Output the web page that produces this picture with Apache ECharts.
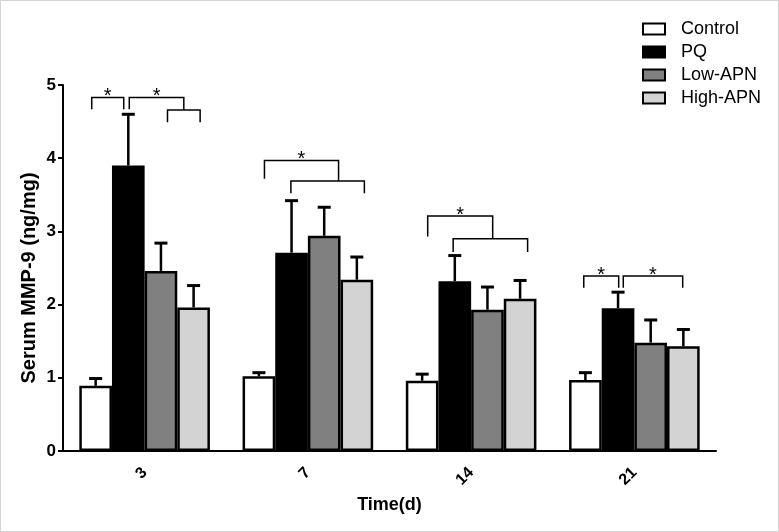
<!DOCTYPE html>
<html>
<head>
<meta charset="utf-8">
<script src="https://cdn.jsdelivr.net/npm/echarts@6/dist/echarts.min.js"></script>
<style>
html,body{margin:0;padding:0;background:#fff;}
#c{width:779px;height:532px;box-sizing:border-box;border:1px solid #d4d4d4;}
</style>
</head>
<body>
<div id="c"></div>
<script>
// ---- data ----
const categories = ['3', '7', '14', '21'];
const seriesNames = ['Control', 'PQ', 'Low-APN', 'High-APN'];
const control = [0.89, 1.02, 0.96, 0.97];
const pq = [3.90, 2.71, 2.32, 1.95];
const lowApn = [2.46, 2.94, 1.93, 1.48];
const highApn = [1.96, 2.34, 2.08, 1.43];
const controlSd = [0.10, 0.05, 0.09, 0.10];
const pqSd = [0.70, 0.71, 0.35, 0.22];
const lowApnSd = [0.38, 0.39, 0.31, 0.31];
const highApnSd = [0.30, 0.31, 0.25, 0.23];
const yTicks = [0, 1, 2, 3, 4, 5];
// brackets: [categoryIndex, leftBarPos, rightBarPos, yTop, yLeftEnd, yRightEnd, star]
const brackets = [
  [0, -0.12, 0.86, 4.83, 4.67, 4.67, 1],
  [0, 1.03, 2.70, 4.83, 4.67, 4.66, 1],
  [0, 2.20, 3.20, 4.66, 4.49, 4.49, 0],
  [1, 0.17, 2.44, 3.97, 3.72, 3.69, 1],
  [1, 0.98, 3.23, 3.69, 3.52, 3.52, 0],
  [2, 0.17, 2.16, 3.21, 2.93, 2.90, 1],
  [2, 0.95, 3.23, 2.90, 2.72, 2.72, 0],
  [3, -0.05, 1.02, 2.39, 2.23, 2.23, 1],
  [3, 1.16, 2.98, 2.39, 2.23, 2.23, 1]
];

const means = [control, pq, lowApn, highApn];
const sds = [controlSd, pqSd, lowApnSd, highApnSd];
const colors = ['#ffffff', '#000000', '#808080', '#d3d3d3'];

const errData = [];
means.forEach((arr, s) => arr.forEach((v, i) => errData.push([i, s, v, sds[s][i]])));

const FONT = '"Liberation Sans", Arial, sans-serif';

function barCenter(api, cat, pos) {
  const band = api.size([1, 0])[0];
  const bw = band * 0.2;
  const c = api.coord([cat, 0])[0];
  return c + bw * (pos - 1.5);
}

const chart = echarts.init(document.getElementById('c'));
const barSeries = seriesNames.map((n, s) => ({
  name: n,
  type: 'bar',
  data: means[s],
  barGap: '0%',
  barCategoryGap: '20%',
  itemStyle: { color: colors[s], borderColor: '#000', borderWidth: 2.5 },
  emphasis: { disabled: true },
  z: 2
}));

chart.setOption({
  animation: false,
  textStyle: { fontFamily: FONT },
  grid: { left: 62, right: 62, top: 84, bottom: 80 },
  legend: {
    data: seriesNames,
    orient: 'vertical',
    left: 636,
    top: 14,
    itemWidth: 22,
    itemHeight: 11,
    itemGap: 5,
    icon: 'rect',
    textStyle: { fontSize: 18, color: '#000', fontFamily: FONT, padding: [0, 0, 0, 11] }
  },
  xAxis: {
    type: 'category',
    data: categories,
    name: 'Time(d)',
    nameLocation: 'middle',
    nameGap: 45,
    nameTextStyle: { fontSize: 18, fontWeight: 'bold', color: '#000' },
    axisLine: { lineStyle: { color: '#000', width: 2 } },
    axisTick: { alignWithLabel: true, length: 6, lineStyle: { color: '#000', width: 2 } },
    axisLabel: { rotate: 45, fontSize: 16, fontWeight: 'bold', color: '#000', margin: 19 }
  },
  yAxis: {
    type: 'value',
    min: yTicks[0],
    max: yTicks[yTicks.length - 1],
    interval: 1,
    name: 'Serum MMP-9 (ng/mg)',
    nameLocation: 'middle',
    nameGap: 24,
    nameMoveOverlap: false,
    nameTextStyle: { fontSize: 20, fontWeight: 'bold', color: '#000', padding: [0, 20, 0, 0] },
    axisLine: { show: true, lineStyle: { color: '#000', width: 2 } },
    axisTick: { show: true, length: 5, lineStyle: { color: '#000', width: 2 } },
    axisLabel: { fontSize: 17, fontWeight: 'bold', color: '#000', margin: 7 },
    splitLine: { show: false }
  },
  series: barSeries.concat([
    {
      type: 'custom',
      name: 'err',
      data: errData,
      encode: { x: 0, y: 2 },
      z: 3,
      silent: true,
      renderItem: function (params, api) {
        const cat = api.value(0), s = api.value(1), m = api.value(2), sd = api.value(3);
        const x = barCenter(api, cat, s);
        const y0 = api.coord([cat, m])[1];
        const y1 = api.coord([cat, m + sd])[1];
        return {
          type: 'group',
          children: [
            { type: 'line', shape: { x1: x, y1: y0, x2: x, y2: y1 }, style: { stroke: '#000', lineWidth: 2.5 } },
            { type: 'line', shape: { x1: x - 6.5, y1: y1, x2: x + 6.5, y2: y1 }, style: { stroke: '#000', lineWidth: 3 } }
          ]
        };
      }
    },
    {
      type: 'custom',
      name: 'sig',
      data: brackets,
      encode: { x: 0, y: 3 },
      z: 4,
      silent: true,
      clip: false,
      renderItem: function (params, api) {
        const cat = api.value(0);
        const xl = barCenter(api, cat, api.value(1));
        const xr = barCenter(api, cat, api.value(2));
        const yt = api.coord([cat, api.value(3)])[1];
        const yl = api.coord([cat, api.value(4)])[1];
        const yr = api.coord([cat, api.value(5)])[1];
        const children = [{
          type: 'polyline',
          shape: { points: [[xl, yl], [xl, yt], [xr, yt], [xr, yr]] },
          style: { stroke: '#000', lineWidth: 1.5, fill: null }
        }];
        if (api.value(6)) {
          children.push({
            type: 'text',
            style: {
              text: '*', x: (xl + xr) / 2, y: yt + 9,
              fill: '#000', font: '20px ' + FONT,
              align: 'center', verticalAlign: 'bottom'
            }
          });
        }
        return { type: 'group', children: children };
      }
    }
  ])
});
</script>
</body>
</html>
